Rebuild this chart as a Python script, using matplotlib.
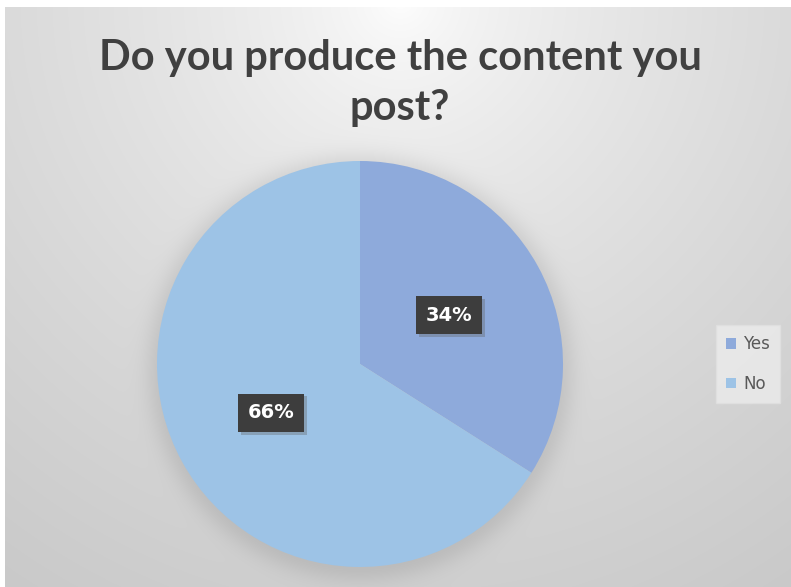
import numpy as np
import matplotlib
matplotlib.use("Agg")
import matplotlib.pyplot as plt
import matplotlib.patheffects as pe

title = "Do you produce the content you\npost?"
categories = ["Yes", "No"]
shares = [34, 66]
colors = ["#8eaadb", "#9dc3e6"]

W, H, DPI = 791, 587, 100
fig = plt.figure(figsize=(W / DPI, H / DPI), dpi=DPI)
fig.patch.set_facecolor("white")

# chart area with radial grey gradient and soft pie shadow
x0, y0 = 5, 7
cx, cy, r = 360, 364, 203
yy, xx = np.mgrid[y0:H, x0:W].astype(float)
d = np.hypot(xx - 400, yy - 0)
val = 1 - 0.21 * (d / 700) ** 0.65
dp = np.hypot(xx - cx, yy - (cy + 3))
shadow = np.where(dp > r - 5, np.exp(-((dp - r + 5) / 18) ** 2), 1.0)
val = val - 0.08 * shadow
img = np.dstack([val, val, val])
bg = fig.add_axes([x0 / W, 0, (W - x0) / W, (H - y0) / H])
bg.imshow(np.clip(img, 0, 1), aspect="auto", interpolation="bilinear")
bg.set_axis_off()

# pie
ax = fig.add_axes([(cx - r) / W, (H - cy - r) / H, 2 * r / W, 2 * r / H])
wedges, texts, autotexts = ax.pie(
    shares, colors=colors, startangle=90, counterclock=False,
    autopct="%d%%", pctdistance=0.5, radius=1.0,
    wedgeprops=dict(linewidth=0),
)
for t in autotexts:
    t.set_color("white")
    t.set_fontsize(14)
    t.set_fontweight("bold")
    t.set_family("DejaVu Sans")
    t.set_bbox(dict(boxstyle="square,pad=0.5", facecolor="#3d3d3d",
                    edgecolor="none"))
    t.get_bbox_patch().set_path_effects(
        [pe.SimplePatchShadow(offset=(2, -2), shadow_rgbFace="#606060", alpha=0.35),
         pe.Normal()])
ax.set_xlim(-1, 1)
ax.set_ylim(-1, 1)
ax.set_aspect("equal")
ax.set_axis_off()

fig.text(400 / W, 1 - 83 / H, title, ha="center", va="center",
         fontsize=30, fontweight="bold", color="#404040", family="Lato",
         linespacing=1.4)

leg = fig.legend(wedges, categories, loc="center left",
                 bbox_to_anchor=(708 / W, 1 - 364 / H),
                 frameon=True, fontsize=12, handlelength=0.6, handleheight=0.6,
                 handletextpad=0.4, labelspacing=1.3, borderpad=0.6,
                 labelcolor="#595959")
frame = leg.get_frame()
frame.set_facecolor("#ececec")
frame.set_edgecolor("#e0e0e0")
frame.set_boxstyle("square", pad=0)

fig.savefig("out.png", dpi=DPI)
